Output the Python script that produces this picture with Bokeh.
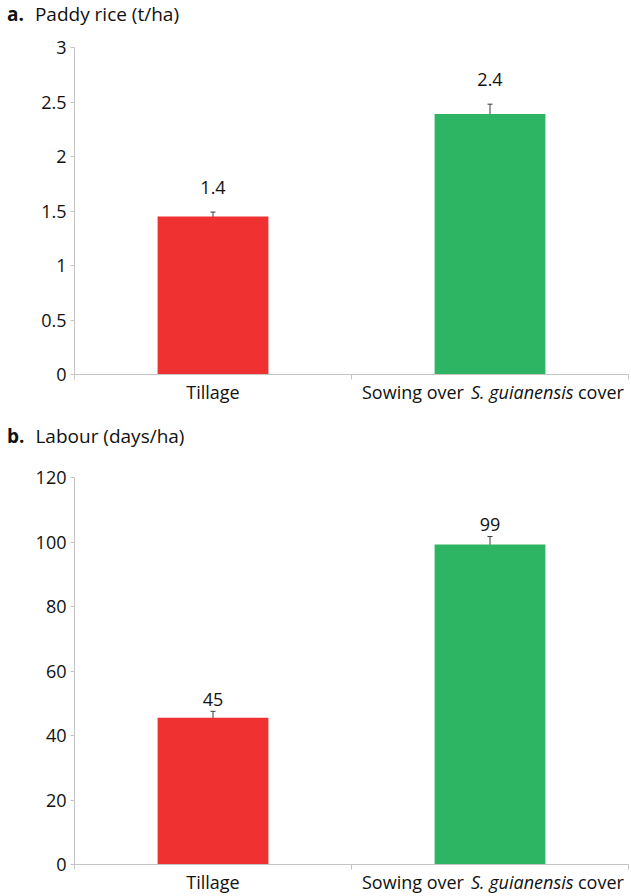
from bokeh.plotting import figure
from bokeh.models import (Range1d, FixedTicker, NumeralTickFormatter, ColumnDataSource,
                          Whisker, TeeHead, LabelSet, Div)
from bokeh.core.properties import value
from bokeh.layouts import column
from bokeh.embed import file_html
from bokeh.resources import INLINE

# ---------------- data ----------------
categories = ["Tillage", "Sowing over S. guianensis cover"]
# label pieces for the category names (text, style)
category_parts = [
    [("Tillage", "normal")],
    [("Sowing over", "normal"), ("S. guianensis", "italic"), ("cover", "normal")],
]
bar_colors = ["#EF3131", "#2EB563"]

rice_mean = [1.45, 2.39]
rice_err = [0.04, 0.09]
rice_labels = ["1.4", "2.4"]
rice_ticks = [0, 0.5, 1, 1.5, 2, 2.5, 3]

labour_mean = [45.5, 99.2]
labour_err = [2.0, 2.5]
labour_labels = ["45", "99"]
labour_ticks = [0, 20, 40, 60, 80, 100, 120]

FONT = "Open Sans"
AXIS_GREY = "#c4c4c4"
TEXT = "#111111"
W = 631
LEFT, RIGHT = 74, 3
FW = W - LEFT - RIGHT
NCAT = len(categories)


def title_div(letter, title, height):
    html = ('<span style="font-weight:bold">%s</span>'
            '<span style="margin-left:11px">%s</span>' % (letter, title))
    return Div(text=html, width=W, height=height, margin=(0, 0, 0, 0),
               styles={"font-family": FONT, "font-size": "19px", "color": TEXT,
                       "padding-left": "7px", "line-height": "%dpx" % (2 * (height // 2) - 4),
                       "white-space": "nowrap"})


def label_strip(height, cy, x_range, overlap):
    s = figure(frame_width=FW, frame_height=height, x_range=x_range,
               y_range=Range1d(height, 0), x_axis_type=None, y_axis_type=None,
               output_backend="svg", toolbar_location=None,
               min_border_left=LEFT, min_border_right=RIGHT,
               min_border_top=0, min_border_bottom=0,
               margin=(-overlap, 0, 0, 0))
    s.outline_line_color = None
    s.background_fill_color = None
    s.border_fill_color = None
    widths = [103, 101, 46]
    gap = 6
    for i, parts in enumerate(category_parts):
        cx = i + 0.5
        if len(parts) == 1:
            s.text(x=[cx], y=[cy], text=[parts[0][0]], text_font=value(FONT),
                   text_font_size="18px", text_align="center", text_baseline="middle",
                   text_color=TEXT)
        else:
            total = sum(widths) + gap * (len(widths) - 1)
            pos = -total / 2 + 3
            for (txt, style), wd in zip(parts, widths):
                s.text(x=[cx], y=[cy], text=[txt], x_offset=pos, text_font=value(FONT),
                       text_font_size="18px", text_font_style=style, text_align="left",
                       text_baseline="middle", text_color=TEXT)
                pos += wd + gap
    return s


def bar_panel(means, errs, labels, yticks, frame_h, top, label_gap, fmt, x_range):
    p = figure(frame_width=FW, frame_height=frame_h,
               x_range=x_range,
               y_range=Range1d(yticks[0], yticks[-1]),
               output_backend="svg", toolbar_location=None,
               min_border_left=LEFT, min_border_right=RIGHT,
               min_border_top=top, min_border_bottom=14)
    p.outline_line_color = None
    p.xgrid.visible = False
    p.ygrid.visible = False
    p.background_fill_color = "white"
    p.border_fill_color = "white"

    xs = [i + 0.5 for i in range(NCAT)]
    src = ColumnDataSource(dict(
        x=xs, top=means, color=bar_colors,
        upper=[m + e for m, e in zip(means, errs)],
        lower=[m - e for m, e in zip(means, errs)],
        label=labels,
    ))
    p.vbar(x="x", top="top", bottom=0, width=0.4, fill_color="color",
           line_color=None, source=src)

    p.add_layout(Whisker(source=src, base="x", upper="upper", lower="lower",
                         line_color="#3a3a3a", line_width=1,
                         upper_head=TeeHead(size=5, line_color="#3a3a3a", line_width=1),
                         lower_head=TeeHead(size=5, line_color="#3a3a3a", line_width=1)))

    p.add_layout(LabelSet(x="x", y="upper", text="label", source=src,
                          y_offset=label_gap, text_align="center", text_baseline="middle",
                          text_font=value(FONT), text_font_size=value("18px"),
                          text_color=value(TEXT)))

    ya = p.yaxis[0]
    ya.ticker = FixedTicker(ticks=yticks)
    ya.formatter = NumeralTickFormatter(format=fmt)
    ya.axis_line_color = AXIS_GREY
    ya.major_tick_line_color = AXIS_GREY
    ya.major_tick_out = 4
    ya.major_tick_in = 0
    ya.minor_tick_line_color = None
    ya.major_label_text_font = FONT
    ya.major_label_text_font_size = "18px"
    ya.major_label_text_color = TEXT
    ya.major_label_standoff = 4

    xa = p.xaxis[0]
    xa.ticker = FixedTicker(ticks=list(range(NCAT + 1)))
    xa.major_label_overrides = {i: "" for i in range(NCAT + 1)}
    xa.major_label_text_font_size = "0px"
    xa.major_label_standoff = 0
    xa.axis_line_color = AXIS_GREY
    xa.major_tick_line_color = AXIS_GREY
    xa.major_tick_out = 5
    xa.major_tick_in = 0
    xa.minor_tick_line_color = None
    return p


xr_a = Range1d(0, NCAT)
xr_b = Range1d(0, NCAT)
ta = title_div("a.", "Paddy rice (t/ha)", 33)
pa = bar_panel(rice_mean, rice_err, rice_labels, rice_ticks, 327, 14, 25, "0.[0]", xr_a)
la = label_strip(42, 13, xr_a, 10)
tb = title_div("b.", "Labour (days/ha)", 37)
pb = bar_panel(labour_mean, labour_err, labour_labels, labour_ticks, 387, 20, 12, "0", xr_b)
lb = label_strip(26, 13, xr_b, 10)

layout = column(ta, pa, la, tb, pb, lb, spacing=0)
open("out.html", "w").write(file_html(layout, INLINE))
